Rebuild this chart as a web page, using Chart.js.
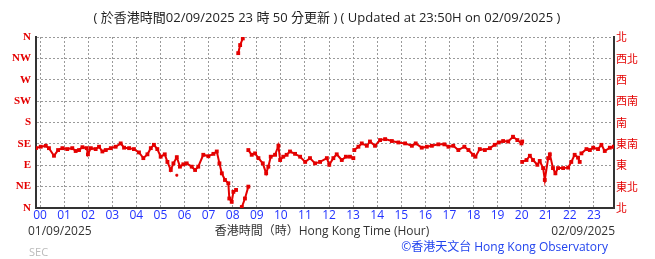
<!DOCTYPE html>
<html>
<head>
<meta charset="utf-8">
<script src="https://cdn.jsdelivr.net/npm/chart.js@4"></script>
<style>
  html, body { margin: 0; padding: 0; background: #fff; }
  #wrap { width: 655px; height: 259px; }
</style>
</head>
<body>
<div id="wrap"><canvas id="c" width="655" height="259"></canvas></div>
<script>
// hours after 00:00 on 02/09 (window runs 23:50 -> 23:50), direction in degrees
// null breaks the trace where it jumps or wraps past north
const hours = [
  -0.17, 0.03, 0.24, 0.37, 0.58, 0.75, 0.93, 1.13, 1.34, 1.48, 1.62, 1.76, 1.94, 1.99, 2.11,
  2.31, 2.45, 2.59, 2.73, 2.94, 3.14, 3.35, 3.49, 3.70, 3.90, 4.11, 4.29, 4.46, 4.60, 4.73,
  4.87, 5.01, 5.18, 5.29, 5.43, 5.54, 5.68, 5.81, 5.95, 6.09, 6.30, 6.44, 6.57, 6.78, 6.99,
  7.20, 7.34, 7.45, 7.55, 7.68, 7.82, 7.86, 7.96, 8.03, 8.14,
  8.18, 8.23, 8.31, 8.42,
  8.40, 8.38, 8.51, 8.65,
  8.65, 8.65, 8.79, 8.93, 9.07, 9.25, 9.39, 9.48, 9.58, 9.76, 9.90, 9.97, 10.10, 10.24, 10.38,
  10.59, 10.80, 11.01, 11.21, 11.42, 11.63, 11.91, 12.01, 12.18, 12.32, 12.53, 12.70, 12.87, 13.01,
  13.03, 13.05, 13.22, 13.36, 13.57, 13.70, 13.91, 14.12, 14.33, 14.61, 14.88, 15.16, 15.44, 15.60,
  15.85, 16.06, 16.27, 16.54, 16.79, 16.96, 17.16, 17.37, 17.62, 17.79, 17.98, 18.08, 18.26, 18.47,
  18.68, 18.88, 19.05, 19.23, 19.44, 19.64, 19.82, 19.99, 20.02,
  20.02, 20.02, 20.20, 20.34, 20.47, 20.65, 20.75, 20.89, 20.96, 21.10, 21.17, 21.30, 21.40, 21.51,
  21.72, 21.93, 22.06, 22.20, 22.34, 22.41,
  22.42, 22.48, 22.69, 22.83, 22.97, 23.17, 23.31, 23.45, 23.66, 23.83
];
const dirs = [
  126, 129, 131, 126, 110, 122, 126, 124, 126, 120, 122, 128, 126, 113, 126,
  124, 129, 119, 122, 126, 129, 136, 127, 126, 124, 117, 105, 113, 126, 133,
  124, 108, 113, 97, 80, 94, 107, 87, 92, 94, 87, 80, 87, 112, 109,
  114, 119, 94, 73, 59, 52, 20, 13, 34, 38,
  null, 326, 343, 357,
  null, 2, 20, 45,
  null, 122, 112, 115, 105, 94, 73, 87, 108, 112, 131, 101, 108, 112, 119,
  114, 108, 97, 105, 94, 97, 105, 91, 105, 113, 101, 108, 108, 105,
  null, 122, 129, 136, 131, 140, 131, 143, 145, 141, 138, 136, 131, 136,
  127, 129, 131, 134, 134, 129, 131, 122, 129, 122, 112, 108, 124, 122,
  126, 133, 138, 141, 140, 150, 143, 136, 140,
  null, 97, 101, 110, 101, 91, 99, 84, 59, 105, 113, 84, 73, 84,
  84, 85, 97, 112, 106, 97,
  null, 115, 124, 122, 127, 124, 133, 120, 127, 129
];
// lone reading below the trace near 05:40
const strayHours = [5.68];
const strayDirs = [69];

const hourTicks = Array.from({ length: 24 }, (_, i) => i);
const dirLabels = ['N', 'NE', 'E', 'SE', 'S', 'SW', 'W', 'NW', 'N'];
const dirLabelsZh = ['北', '東北', '東', '東南', '南', '西南', '西', '西北', '北'];

const titleText = '( 於香港時間02/09/2025 23 時 50 分更新 ) ( Updated at 23:50H on 02/09/2025 )';
const startDate = '01/09/2025';
const endDate = '02/09/2025';
const axisTitle = '香港時間（時）Hong Kong Time (Hour)';
const credit = '©香港天文台 Hong Kong Observatory';

const RED = 'rgb(228,0,0)';
const SANS = '"Open Sans", "Noto Sans CJK TC", sans-serif';

const textPlugin = {
  id: 'texts',
  afterDraw(chart) {
    const ctx = chart.ctx;
    const area = chart.chartArea;
    ctx.save();
    ctx.textBaseline = 'middle';
    ctx.fillStyle = '#222';
    ctx.font = '13px ' + SANS;
    ctx.textAlign = 'center';
    ctx.fillText(titleText, 327, 18);

    ctx.font = '12px ' + SANS;
    ctx.fillStyle = '#333';
    ctx.textAlign = 'left';
    ctx.fillText(startDate, 28, 232);
    ctx.textAlign = 'right';
    ctx.fillText(endDate, area.right + 1, 232);
    ctx.textAlign = 'center';
    ctx.fillText(axisTitle, 322, 232);

    ctx.fillStyle = '#2244ee';
    ctx.textAlign = 'right';
    ctx.fillText(credit, 608, 248);

    ctx.fillStyle = '#bbb';
    ctx.textAlign = 'left';
    ctx.font = '11px ' + SANS;
    ctx.fillText('SEC', 29, 253);
    ctx.restore();
  }
};

const points = hours.map((h, i) => ({ x: h, y: dirs[i] }));
const stray = strayHours.map((h, i) => ({ x: h, y: strayDirs[i] }));

new Chart(document.getElementById('c'), {
  type: 'line',
  data: {
    datasets: [
      {
        data: points,
        borderColor: RED,
        backgroundColor: RED,
        borderWidth: 2,
        pointRadius: 1.3,
        pointStyle: 'rect',
        spanGaps: false,
        tension: 0
      },
      {
        data: stray,
        showLine: false,
        borderColor: RED,
        backgroundColor: RED,
        pointRadius: 1.3,
        pointStyle: 'rect'
      }
    ]
  },
  options: {
    responsive: false,
    animation: false,
    events: [],
    layout: { padding: { top: 37, left: 0, right: 0, bottom: 0 } },
    plugins: { legend: { display: false }, tooltip: { enabled: false }, title: { display: false } },
    scales: {
      x: {
        type: 'linear',
        min: -1 / 6,
        max: 23 + 50 / 60,
        afterBuildTicks(scale) { scale.ticks = hourTicks.map(v => ({ value: v })); },
        afterFit(scale) { scale.height = 51; },
        grid: { color: '#9a9a9a', drawTicks: false, lineWidth: 1 },
        border: { display: true, color: '#333', width: 2, dash: [2, 2] },
        ticks: {
          color: '#2233ff',
          font: { family: SANS, size: 12 },
          padding: 0,
          maxRotation: 0,
          autoSkip: false,
          callback: v => String(v).padStart(2, '0')
        }
      },
      y: {
        position: 'left',
        min: 0,
        max: 360,
        afterFit(scale) { scale.width = 36; },
        grid: { color: '#9a9a9a', drawTicks: false, lineWidth: 1 },
        border: { display: true, color: '#333', width: 2, dash: [2, 2] },
        ticks: {
          stepSize: 45,
          color: RED,
          padding: 5,
          font: { family: '"Liberation Serif", serif', size: 11, weight: 'bold' },
          callback: v => dirLabels[Math.round(v / 45)]
        }
      },
      y2: {
        position: 'right',
        min: 0,
        max: 360,
        afterFit(scale) { scale.width = 41; },
        grid: { display: false, drawTicks: false },
        border: { display: true, color: '#333', width: 2 },
        ticks: {
          stepSize: 45,
          color: RED,
          padding: 2,
          font: { family: '"Noto Sans CJK TC", sans-serif', size: 11 },
          callback: v => dirLabelsZh[Math.round(v / 45)]
        }
      }
    }
  },
  plugins: [textPlugin]
});
</script>
</body>
</html>
